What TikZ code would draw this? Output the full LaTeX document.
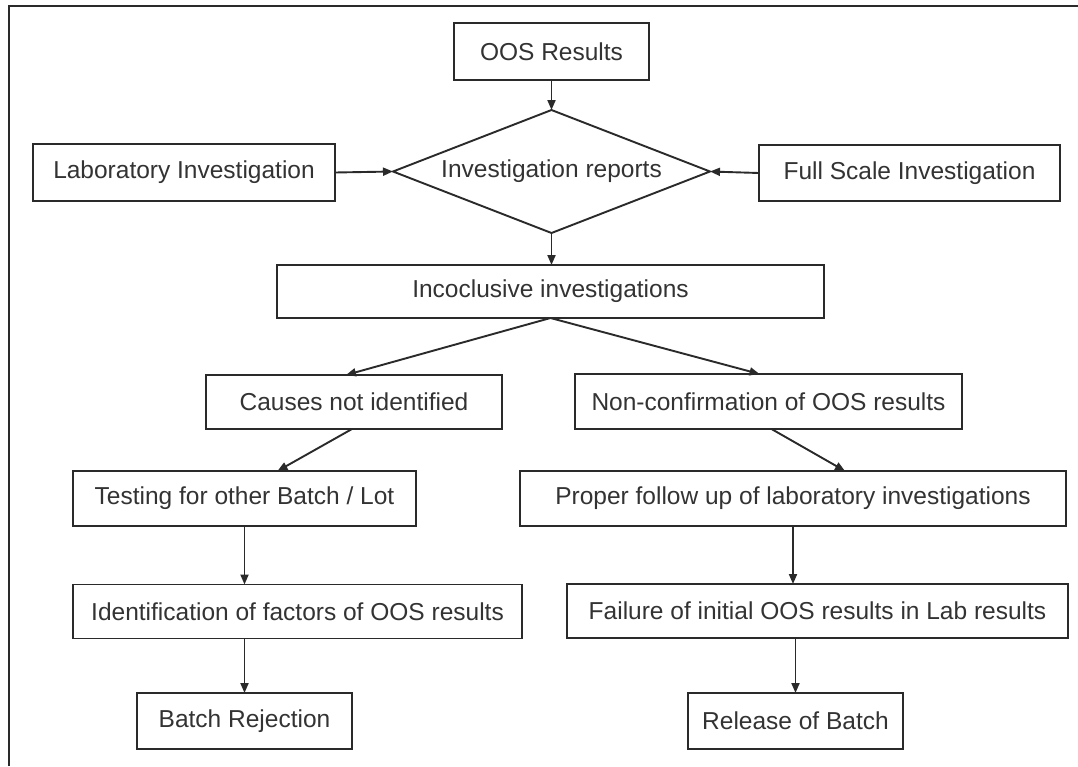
\documentclass[tikz,border=0pt]{standalone}
\usepackage{fontspec}
\setmainfont{Liberation Sans}
\usetikzlibrary{shapes.geometric,arrows.meta}
\definecolor{ink}{HTML}{2A2A2A}
\definecolor{txt}{HTML}{333333}
\begin{document}
\begin{tikzpicture}[x=1pt,y=-1pt,
  box/.style={draw=ink, line width=1.9pt, rectangle, inner sep=0pt, outer sep=0pt,
    minimum height=55pt, text=txt, font=\fontsize{24.5}{28}\selectfont},
  decision/.style={draw=ink, line width=1.9pt, diamond, aspect=2.58, inner sep=0pt,
    outer sep=0pt, minimum width=317pt, minimum height=123pt, text=txt,
    font=\fontsize{24.5}{28}\selectfont},
  flow/.style={draw=ink, line width=1.9pt, -{Triangle[length=10pt,width=8pt]}},
  frame/.style={draw=ink, line width=1.9pt}]
  \useasboundingbox[fill=white] (0,0) rectangle (1078,766);

  % outer frame (left and top edges)
  \coordinate (fbl) at (9,766);
  \coordinate (ftl) at (9,6);
  \coordinate (ftr) at (1078,6);
  \draw[frame] (fbl) -- (ftl) -- (ftr);

  % nodes
  \node[box, minimum width=195pt, minimum height=57pt] (oos) at (551.5,51.5) {OOS Results};
  \node[decision] (rep) at (551.5,171.5) {Investigation reports};
  \node[box, minimum width=302pt, minimum height=57pt] (lab) at (184,172.5) {Laboratory Investigation};
  \node[box, minimum width=301pt, minimum height=56pt] (full) at (909.5,173) {Full Scale Investigation};
  \node[box, minimum width=547pt, minimum height=53pt] (inc) at (550.5,291.5) {Incoclusive investigations};
  \node[box, minimum width=296pt, minimum height=54pt] (cause) at (354,402) {Causes not identified};
  \node[box, minimum width=387pt, minimum height=55pt] (nonc) at (768.5,401.5) {Non-confirmation of OOS results};
  \node[box, minimum width=343pt] (test) at (244.5,498.5) {Testing for other Batch / Lot};
  \node[box, minimum width=546pt] (proper) at (793,498.5) {Proper follow up of laboratory investigations};
  \node[box, minimum width=449pt, minimum height=54pt] (ident) at (297.5,611.5) {Identification of factors of OOS results};
  \node[box, minimum width=501pt, minimum height=54pt] (fail) at (817.5,611) {Failure of initial OOS results in Lab results};
  \node[box, minimum width=215pt, minimum height=56pt] (batch) at (244.5,721) {Batch Rejection};
  \node[box, minimum width=215pt, minimum height=56pt] (release) at (795.5,721) {Release of Batch};

  % connectors
  \draw[flow] (oos.south) -- (rep.north);
  \draw[flow] (lab.east) -- (rep.west);
  \draw[flow] (full.west) -- (rep.east);
  \draw[flow] (rep.south) -- (rep.south |- inc.north);
  \draw[flow] (inc.south) -- ([xshift=-8pt]cause.north);
  \draw[flow] (inc.south) -- ([xshift=-9pt]nonc.north);
  \draw[flow] ([xshift=-2pt]cause.south) -- ([xshift=33pt]test.north);
  \draw[flow] ([xshift=3pt]nonc.south) -- ([xshift=52pt]proper.north);
  \draw[flow] (test.south) -- (test.south |- ident.north);
  \draw[flow] (batch.north |- ident.south) -- (batch.north);
  \draw[flow] (proper.south) -- (proper.south |- fail.north);
  \draw[flow] (release.north |- fail.south) -- (release.north);
\end{tikzpicture}
\end{document}
